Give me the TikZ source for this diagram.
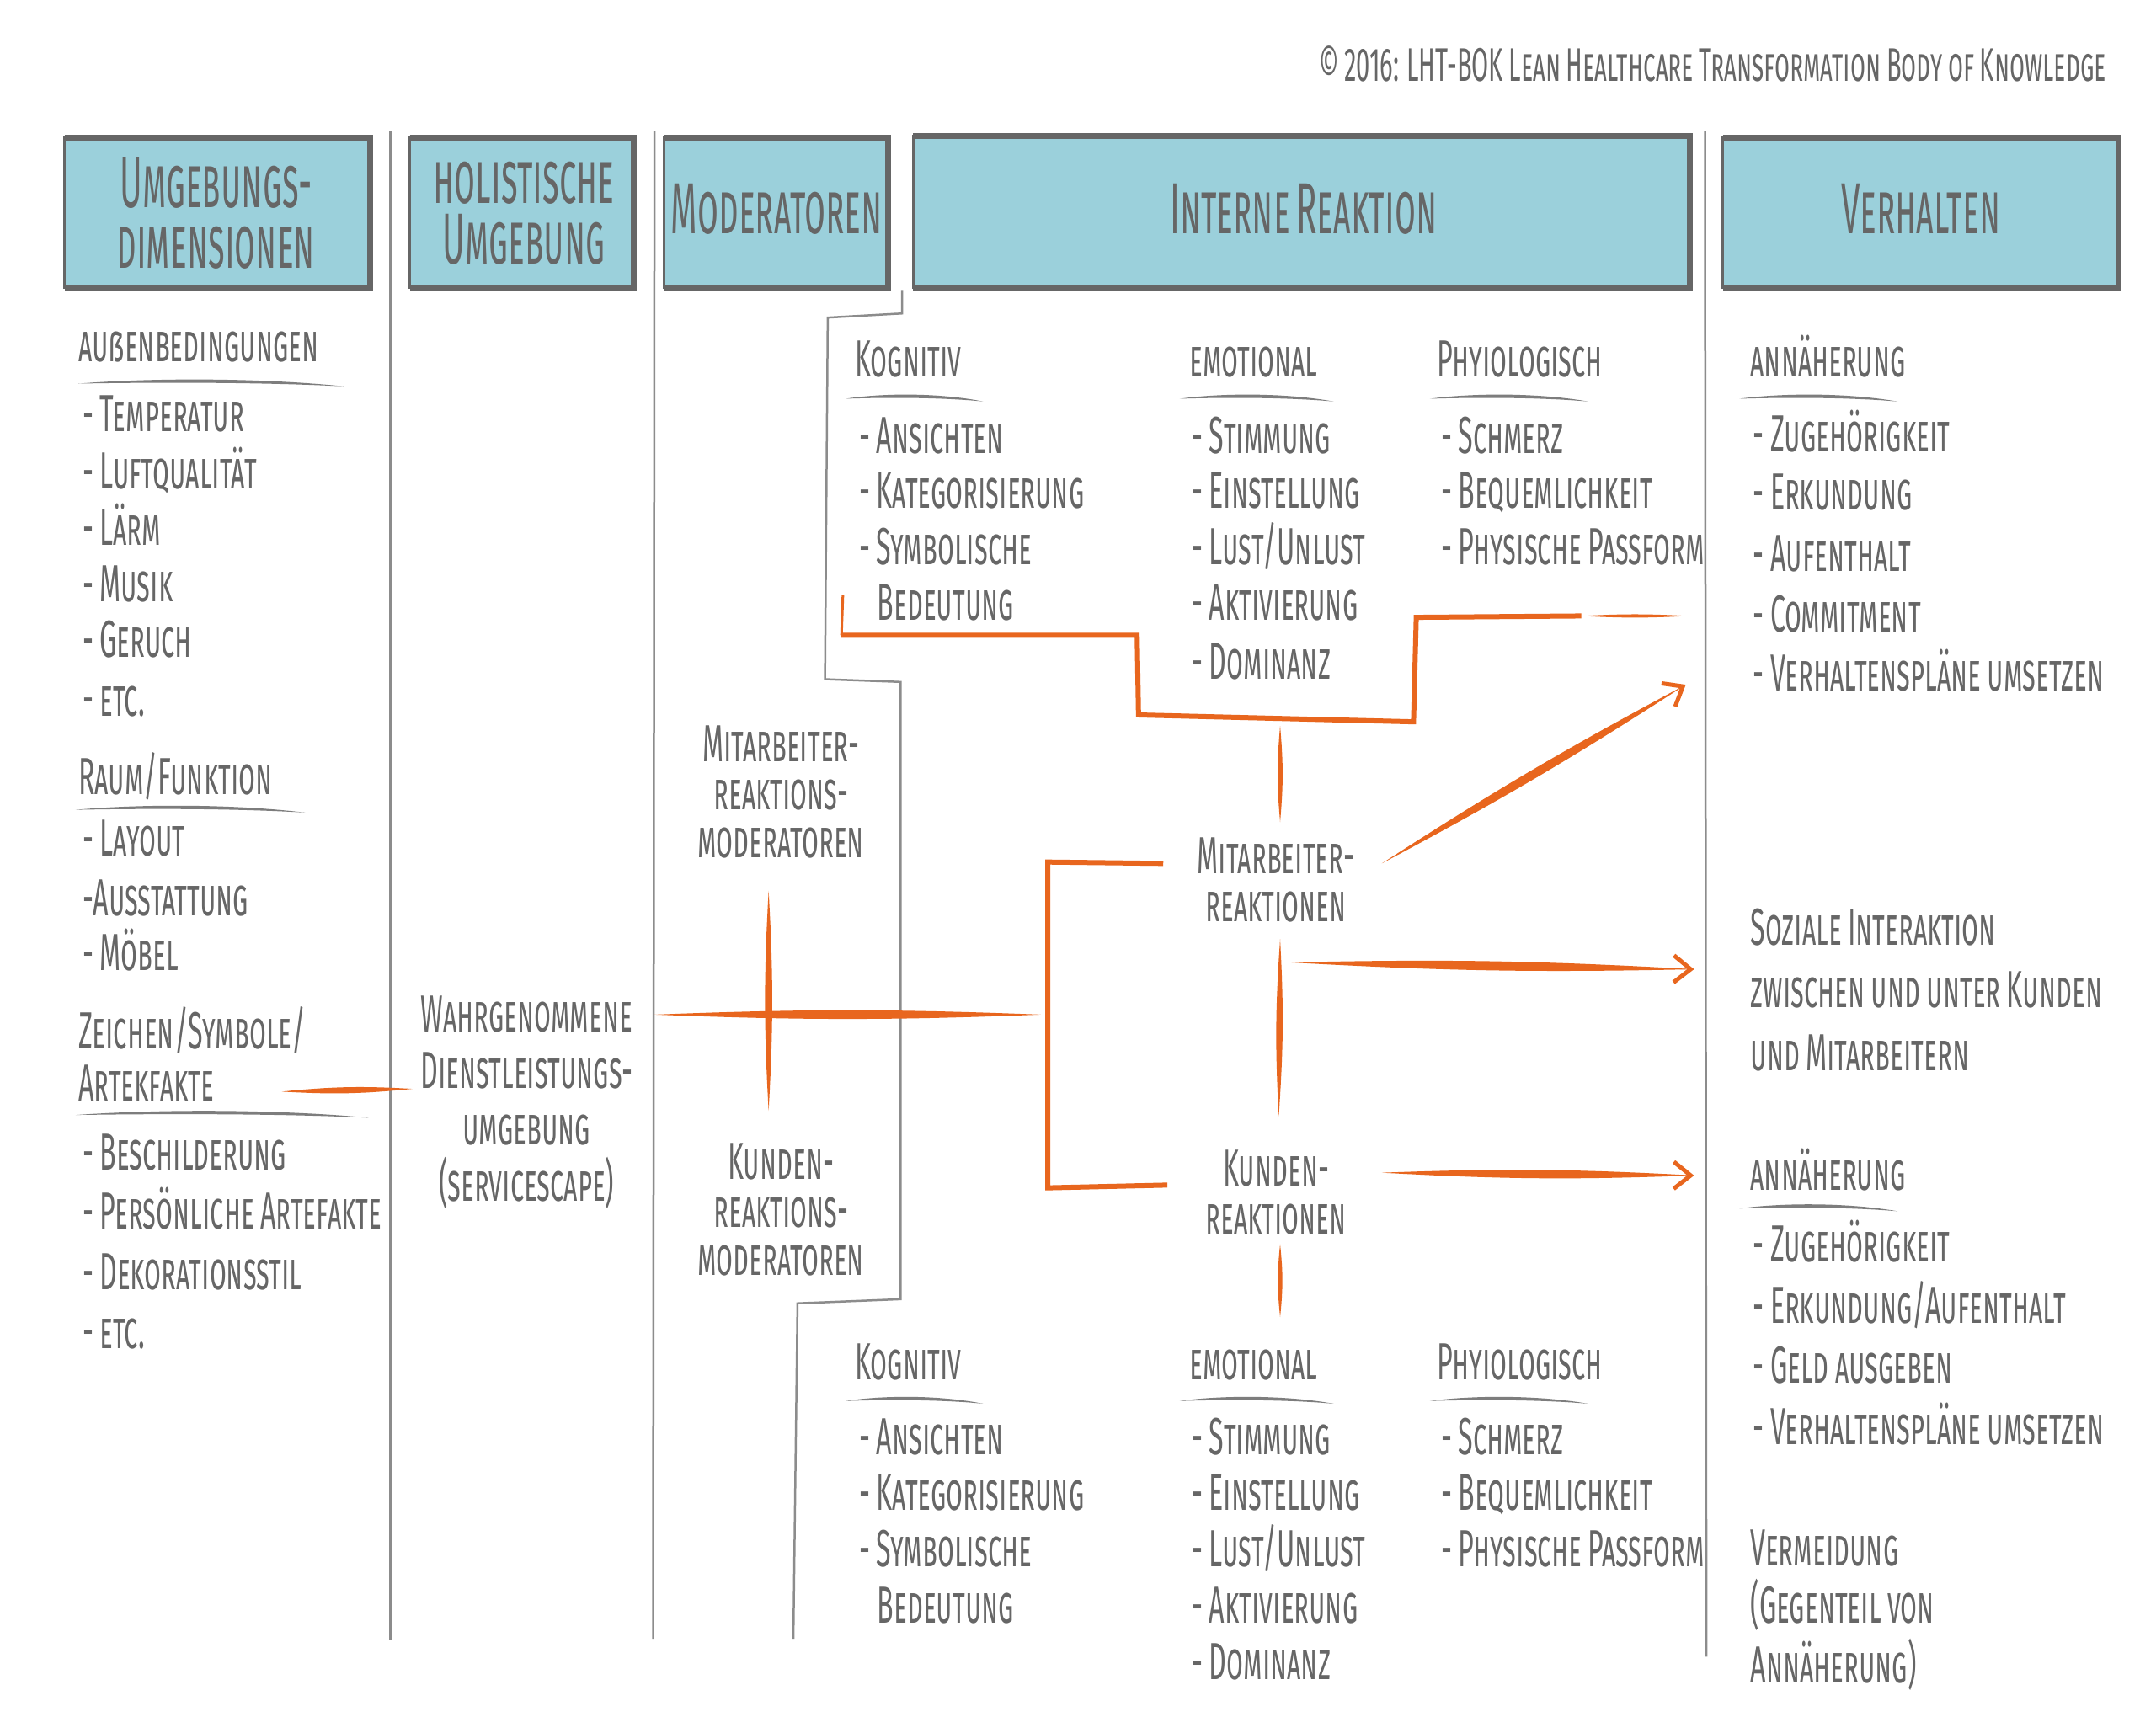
\documentclass[tikz,border=0pt]{standalone}
\usepackage{fontspec}
\setmainfont{Fira Sans}[FakeStretch=0.52, WordSpace=0.85]
\newfontfamily\hdrfam{Fira Sans}[FakeStretch=0.47, WordSpace=0.7]
\usetikzlibrary{arrows.meta,calc}
\definecolor{txt}{HTML}{666666}
\definecolor{hdrfill}{HTML}{9BD0DB}
\definecolor{frame}{HTML}{666666}
\definecolor{sepc}{HTML}{8C8C8C}
\definecolor{org}{HTML}{E8661E}
\newcommand\mybody{\fontsize{62}{67}\selectfont\scshape}
\newcommand\myhead{\hdrfam\fontsize{86}{72}\selectfont\scshape}
\newcommand\swoosh[3]{\fill[txt!85] (#1,#3) .. controls ({#1+0.3*(#2-#1)},{#3-4.5}) and ({#1+0.7*(#2-#1)},{#3-4}) .. (#2,#3+2) .. controls ({#1+0.7*(#2-#1)},{#3-1}) and ({#1+0.3*(#2-#1)},{#3-1}) .. cycle;}
\newcommand\lens[3]{\fill[org] (#1) to[bend left=#3] (#2) to[bend left=#3] (#1) -- cycle;}
\newcommand\hdrbox[4]{\fill[hdrfill] (#1,#2) rectangle (#3,#4);
  \draw[frame, line width=3pt] (#1,#2) rectangle (#3,#4);
  \draw[frame, line width=7pt, line join=miter] (#1,#2) -- (#3,#2) -- (#3,#4) -- (#1,#4);}
\begin{document}
\begin{tikzpicture}[x=1.6327pt,y=-1.6327pt,
  body/.style={font=\mybody, text=txt, inner sep=0pt, anchor=mid west, yshift=-15pt},
  cbody/.style={font=\mybody, text=txt, inner sep=0pt, anchor=center, align=center},
  hdr/.style={font=\myhead, text=txt, inner sep=0pt, anchor=center, align=center},
  sepline/.style={draw=sepc, line width=2.5pt, line join=miter},
  oline/.style={draw=org, line width=6pt, line join=miter},
  tip/.style={draw=org, line width=0.5pt, -{Straight Barb[length=20pt,width=32pt,line width=5pt]}}]
\fill[white] (0,0) rectangle (1568,1260.5);
\useasboundingbox (0,0) rectangle (1568,1260.5);

% copyright
\node[body, anchor=mid east, font=\fontsize{56}{60}\selectfont\scshape] (copy) at (1532,48) {© 2016: LHT-BOK Lean Healthcare Transformation Body of Knowledge};

% header boxes
\hdrbox{47}{100}{269}{209}
\hdrbox{298}{100}{461}{209}
\hdrbox{483}{100}{646}{209}
\hdrbox{664}{99}{1229}{209}
\hdrbox{1253}{100}{1541}{209}
\node[hdr] (h1) at (157,155) {Umgebungs-\\dimensionen};
\node[hdr] (h2) at (381,155) {holistische\\Umgebung};
\node[hdr] (h3) at (565,152) {Moderatoren};
\node[hdr] (h4) at (948,152) {Interne Reaktion};
\node[hdr] (h5) at (1397,152) {Verhalten};

% separators
\draw[sepline] (284,95) -- (284,1193);
\draw[sepline] (476,95) -- (475,1192);
\draw[sepline] (656,211) -- (656,228) -- (602,231) -- (600,494) -- (655,496) -- (655,945) -- (580,948) -- (577,1192);
\draw[sepline] (1240,95) -- (1241,1205);

% column 1
\node[body] (aussen) at (57,252) {außenbedingungen};
\swoosh{57}{250}{279}
\node[body] (temp) at (60,303) {- Temperatur};
\node[body] (luft) at (60,345) {- Luftqualität};
\node[body] (laerm) at (60,386) {- Lärm};
\node[body] (musik) at (60,427) {- Musik};
\node[body] (geruch) at (60,467) {- Geruch};
\node[body] (etc1) at (60,510) {- etc.};
\node[body] (raum) at (57,567) {Raum/Funktion};
\swoosh{55}{222}{589}
\node[body] (layout) at (60,612) {- Layout};
\node[body] (ausst) at (60,655) {-Ausstattung};
\node[body] (moebel) at (60,695) {- Möbel};
\node[body] (zeichen) at (57,752) {Zeichen/Symbole/};
\node[body] (artek) at (57,790) {Artekfakte};
\swoosh{55}{268}{811}
\node[body] (besch) at (60,840) {- Beschilderung};
\node[body] (pers) at (60,883) {- Persönliche Artefakte};
\node[body] (deko) at (60,927) {- Dekorationsstil};
\node[body] (etc2) at (60,970) {- etc.};

% column 2
\node[cbody] (wahr) at (383,802) {Wahrgenommene\\Dienstleistungs-\\umgebung\\(servicescape)};

% column 3
\node[cbody, font=\fontsize{62}{57}\selectfont\scshape] (mamod) at (568,576) {Mitarbeiter-\\reaktions-\\moderatoren};
\node[cbody, font=\fontsize{62}{57}\selectfont\scshape] (kumod) at (568,880) {Kunden-\\reaktions-\\moderatoren};

% column 4 top
\node[body] (kog1) at (622,263) {Kognitiv};
\swoosh{615}{715}{290}
\node[body] (k1a) at (625,319) {- Ansichten};
\node[body] (k1b) at (625,359) {- Kategorisierung};
\node[body] (k1c) at (625,400) {- Symbolische};
\node[body] (k1d) at (638,440) {Bedeutung};
\node[body] (emo1) at (865,263) {emotional};
\swoosh{858}{970}{290}
\node[body] (e1a) at (867,319) {- Stimmung};
\node[body] (e1b) at (867,359) {- Einstellung};
\node[body] (e1c) at (867,400) {- Lust/Unlust};
\node[body] (e1d) at (867,440) {- Aktivierung};
\node[body] (e1e) at (867,483) {- Dominanz};
\node[body] (phy1) at (1045,263) {Phyiologisch};
\swoosh{1040}{1155}{290}
\node[body] (p1a) at (1048,319) {- Schmerz};
\node[body] (p1b) at (1048,359) {- Bequemlichkeit};
\node[body] (p1c) at (1048,400) {- Physische Passform};

% middle
\node[cbody, font=\fontsize{62}{57}\selectfont\scshape] (mare) at (928,640) {Mitarbeiter-\\reaktionen};
\node[cbody, font=\fontsize{62}{57}\selectfont\scshape] (kure) at (928,867) {Kunden-\\reaktionen};

% column 4 bottom
\node[body] (kog2) at (622,993) {Kognitiv};
\swoosh{615}{715}{1019}
\node[body] (k2a) at (625,1047) {- Ansichten};
\node[body] (k2b) at (625,1088) {- Kategorisierung};
\node[body] (k2c) at (625,1129) {- Symbolische};
\node[body] (k2d) at (638,1170) {Bedeutung};
\node[body] (emo2) at (865,993) {emotional};
\swoosh{858}{970}{1019}
\node[body] (e2a) at (867,1047) {- Stimmung};
\node[body] (e2b) at (867,1088) {- Einstellung};
\node[body] (e2c) at (867,1129) {- Lust/Unlust};
\node[body] (e2d) at (867,1170) {- Aktivierung};
\node[body] (e2e) at (867,1211) {- Dominanz};
\node[body] (phy2) at (1045,993) {Phyiologisch};
\swoosh{1040}{1155}{1019}
\node[body] (p2a) at (1048,1047) {- Schmerz};
\node[body] (p2b) at (1048,1088) {- Bequemlichkeit};
\node[body] (p2c) at (1048,1129) {- Physische Passform};

% column 5
\node[body] (ann1) at (1273,263) {annäherung};
\swoosh{1265}{1380}{290}
\node[body] (v1a) at (1275,318) {- Zugehörigkeit};
\node[body] (v1b) at (1275,360) {- Erkundung};
\node[body] (v1c) at (1275,405) {- Aufenthalt};
\node[body] (v1d) at (1275,449) {- Commitment};
\node[body] (v1e) at (1275,492) {- Verhaltenspläne umsetzen};
\node[body] (soz1) at (1273,677) {Soziale Interaktion};
\node[body] (soz2) at (1273,722) {zwischen und unter Kunden};
\node[body] (soz3) at (1273,768) {und Mitarbeitern};
\node[body] (ann2) at (1273,855) {annäherung};
\swoosh{1265}{1380}{879}
\node[body] (v2a) at (1275,907) {- Zugehörigkeit};
\node[body] (v2b) at (1275,952) {- Erkundung/Aufenthalt};
\node[body] (v2c) at (1275,995) {- Geld ausgeben};
\node[body] (v2d) at (1275,1040) {- Verhaltenspläne umsetzen};
\node[body] (verm1) at (1273,1128) {Vermeidung};
\node[body] (verm2) at (1273,1170) {(Gegenteil von};
\node[body] (verm3) at (1273,1213) {Annäherung)};

% orange connectors
\coordinate (zA) at (205,794);
\coordinate (zB) at (300,792);
\lens{zA}{zB}{4.5}
\coordinate (hA) at (476,738);
\coordinate (hB) at (757,738);
\lens{hA}{hB}{2.2}
\coordinate (vA) at (559,648);
\coordinate (vB) at (559,808);
\lens{vA}{vB}{3.2}
\coordinate (brT) at (846,628);
\coordinate (brB) at (849,862);
\draw[oline] (brT) -- (762,627) -- (762,864) -- (brB);
\coordinate (m1A) at (931,528);
\coordinate (m1B) at (931,598);
\lens{m1A}{m1B}{5}
\coordinate (m2A) at (931,683);
\coordinate (m2B) at (930,812);
\lens{m2A}{m2B}{3.5}
\coordinate (m3A) at (931,905);
\coordinate (m3B) at (931,958);
\lens{m3A}{m3B}{6}
\coordinate (tb0) at (613,433);
\coordinate (tb6) at (1228,448);
\draw[draw=org, line width=3pt] (tb0) -- (612,462);
\draw[oline] (612,462) -- (827,462) -- (828,520) -- (1028,525) -- (1030,449) -- (1150,448);
\coordinate (tb5) at (1150,448);
\lens{tb5}{tb6}{3}
\coordinate (a1A) at (1005,628);
\coordinate (a1B) at (1226,498);
\lens{a1A}{a1B}{2.4}
\draw[tip] ($(a1A)!0.9!(a1B)$) -- (a1B);
\coordinate (a2A) at (938,700);
\coordinate (a2B) at (1232,705);
\lens{a2A}{a2B}{2.2}
\draw[tip] ($(a2A)!0.9!(a2B)$) -- (a2B);
\coordinate (a3A) at (1005,853);
\coordinate (a3B) at (1232,855);
\lens{a3A}{a3B}{2.6}
\draw[tip] ($(a3A)!0.9!(a3B)$) -- (a3B);
\end{tikzpicture}
\end{document}
